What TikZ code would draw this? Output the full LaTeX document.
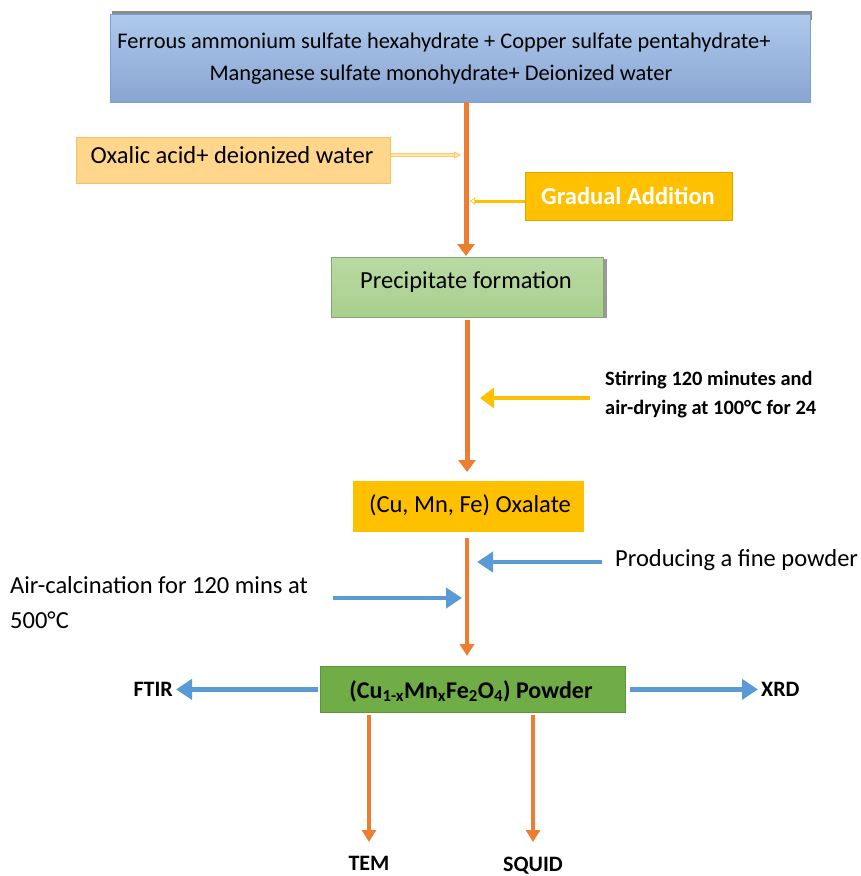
\documentclass[tikz,border=0pt]{standalone}
\usepackage{fontspec}
\setmainfont{Carlito}
\usetikzlibrary{arrows.meta,shadows}
\definecolor{topblue}{RGB}{160,192,232}
\definecolor{topborder}{RGB}{120,160,210}
\definecolor{lorange}{RGB}{255,214,140}
\definecolor{lorangeb}{RGB}{250,195,90}
\definecolor{gold}{RGB}{255,192,0}
\definecolor{goldb}{RGB}{225,165,0}
\definecolor{lgreen}{RGB}{168,208,141}
\definecolor{dgreen}{RGB}{112,173,71}
\definecolor{orng}{RGB}{237,125,49}
\definecolor{blu}{RGB}{91,155,213}
\definecolor{lyel}{RGB}{255,204,90}
\begin{document}
\begin{tikzpicture}[x=1pt,y=-1pt,
  box/.style={draw, line width=0.8pt, inner sep=0pt, anchor=north west},
  txt/.style={font=\fontsize{24.5}{28}\selectfont, text=black, inner sep=0pt},
  toptxt/.style={font=\fontsize{22.4}{26}\selectfont, text=black, inner sep=0pt},
  btxt/.style={font=\fontsize{20.4}{24}\selectfont\bfseries, text=black, inner sep=0pt},
  lbl/.style={font=\fontsize{22}{24}\selectfont\bfseries, text=black, inner sep=0pt},
  orarrow/.style={draw=orng, line width=5pt, -{Triangle[length=12pt,width=17pt]}},
  orarrowthin/.style={draw=orng, line width=3.5pt, -{Triangle[length=12pt,width=14pt]}},
  bluarrow/.style={draw=blu, line width=4.5pt, -{Triangle[length=16pt,width=20pt]}},
  yelarrow/.style={draw=gold, line width=4.5pt, -{Triangle[length=14pt,width=20pt]}}
]
\useasboundingbox (0,0) rectangle (860,876);
% top box
\fill[black!45] (112,11) rectangle (812,20);
\node[box, draw=topborder, top color=topblue!85!white, bottom color=topblue!95!blue!90!black, minimum width=700pt, minimum height=88pt] (top) at (110,14) {};
\node[toptxt] (top1) at (444,43) {Ferrous ammonium sulfate hexahydrate + Copper sulfate pentahydrate+};
\node[toptxt] (top2) at (441,75) {Manganese sulfate monohydrate+ Deionized water};
% oxalic box
\node[box, draw=lorangeb, fill=lorange, minimum width=314pt, minimum height=46pt] (oxa) at (76,137) {};
\node[txt] (oxatxt) at (232,155) {Oxalic acid+ deionized water};
% gradual addition box
\node[box, draw=goldb, fill=gold, minimum width=207pt, minimum height=48pt] (grad) at (525,172) {};
\node[font=\fontsize{24.5}{28}\selectfont\bfseries, text=white, inner sep=0pt] (gradtxt) at (628,196) {Gradual Addition};
% precipitate box
\fill[black!40] (599,259) rectangle (607,318);
\node[box, draw=lgreen!80!black, top color=lgreen!80!white, bottom color=lgreen, minimum width=272pt, minimum height=60pt] (prec) at (331,257) {};
\node[txt] (prectxt) at (466,282) {Precipitate formation};
% oxalate box
\node[box, draw=gold, fill=gold, minimum width=230pt, minimum height=50pt] (oxl) at (353,481) {};
\node[txt] (oxltxt) at (470,505) {(Cu, Mn, Fe) Oxalate};
% powder box
\node[box, draw=dgreen!85!black, fill=dgreen, minimum width=305pt, minimum height=46pt] (pow) at (320,666) {};
\node[font=\fontsize{24}{28}\selectfont\bfseries, text=black, inner sep=0pt] (powtxt) at (471,691) {(Cu\textsubscript{1-x}Mn\textsubscript{x}Fe\textsubscript{2}O\textsubscript{4}) Powder};
% coordinates
\coordinate (a1) at (466,102);
\coordinate (a2) at (466,256);
\coordinate (b1) at (467,320);
\coordinate (b2) at (467,472);
\coordinate (c1) at (467,538);
\coordinate (c2) at (467,656);
\coordinate (oxend) at (461,155);
\coordinate (gradend) at (470,201);
\coordinate (stirS) at (590,398);
\coordinate (stirE) at (480,398);
\coordinate (prodS) at (602,562);
\coordinate (prodE) at (477,562);
\coordinate (airS) at (333,598);
\coordinate (airE) at (462,598);
\coordinate (ftirE) at (176,689);
\coordinate (xrdE) at (758,689);
\coordinate (temS) at (369,715);
\coordinate (temE) at (369,842);
\coordinate (sqS) at (533,715);
\coordinate (sqE) at (533,842);
% main flow
\draw[orarrow] (a1) -- (a2);
\draw[orarrow] (b1) -- (b2);
\draw[orarrowthin] (c1) -- (c2);
% side arrows
\draw[draw=lyel, double=lorange!60!white, line width=0.9pt, double distance=2.2pt, -{Triangle[length=7pt,width=7pt,open,fill=lorange!60!white]}] (oxa.east|-oxend) -- (oxend);
\draw[draw=gold, line width=3pt, -{Triangle[length=5pt,width=7pt,fill=white,color=gold,line width=0.6pt]}] (grad.west|-gradend) -- (gradend);
\draw[yelarrow] (stirS) -- (stirE);
\node[btxt, anchor=west] (stir1) at (605,380) {Stirring 120 minutes and};
\node[btxt, anchor=west] (stir2) at (605,409) {air-drying at 100°C for 24};
\draw[bluarrow] (prodS) -- (prodE);
\node[txt, anchor=west] (prodtxt) at (615,560) {Producing a fine powder};
\draw[bluarrow] (airS) -- (airE);
\node[txt, anchor=west] (air1) at (10,585) {Air-calcination for 120 mins at};
\node[txt, anchor=west] (air2) at (10,620) {500°C};
\draw[bluarrow] ([xshift=-2pt]pow.west) -- (pow.west -| ftirE);
\node[lbl, anchor=east] (ftir) at ([xshift=-3pt]ftirE) {FTIR};
\draw[bluarrow] ([xshift=4pt]pow.east) -- (pow.east -| xrdE);
\node[lbl, anchor=west] (xrd) at ([xshift=3pt]xrdE) {XRD};
\draw[orarrowthin] (temS) -- (temE);
\node[lbl] (tem) at (369,863) {TEM};
\draw[orarrowthin] (sqS) -- (sqE);
\node[lbl] (squid) at (533,866) {SQUID};
\end{tikzpicture}
\end{document}
